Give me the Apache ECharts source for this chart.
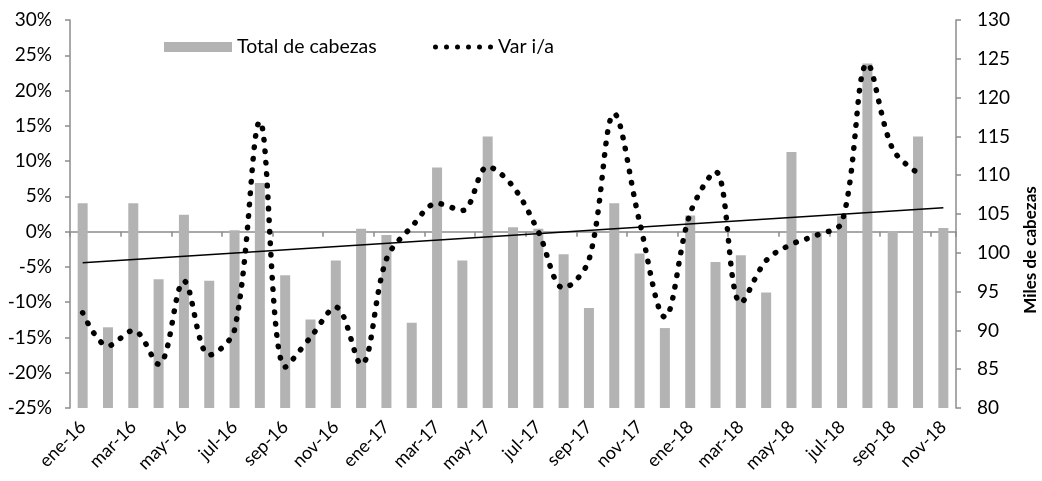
<!DOCTYPE html>
<html>
<head>
<meta charset="utf-8">
<script src="https://cdn.jsdelivr.net/npm/echarts@6/dist/echarts.min.js"></script>
<style>
html,body{margin:0;padding:0;background:#fff;}
#chart{width:1042px;height:481px;}
</style>
</head>
<body>
<div id="chart"></div>
<script>
const categories = [
  'ene-16','feb-16','mar-16','abr-16','may-16','jun-16','jul-16','ago-16','sep-16','oct-16','nov-16','dic-16',
  'ene-17','feb-17','mar-17','abr-17','may-17','jun-17','jul-17','ago-17','sep-17','oct-17','nov-17','dic-17',
  'ene-18','feb-18','mar-18','abr-18','may-18','jun-18','jul-18','ago-18','sep-18','oct-18','nov-18'
];
const totalCabezas = [
  106.4, 90.4, 106.4, 96.6, 104.9, 96.4, 102.9, 109.0, 97.1, 91.4, 99.0, 103.1,
  102.3, 91.0, 111.0, 99.0, 115.0, 103.3, 103.1, 99.8, 92.9, 106.4, 99.9, 90.3,
  104.8, 98.8, 99.7, 94.9, 113.0, 102.6, 104.7, 124.4, 102.8, 115.0, 103.2
];
const varIA = [
  -11.5, -16.2, -14.0, -18.8, -7.0, -17.5, -13.9, 15.6, -19.2, -15.0, -10.7, -18.8,
  -3.9, 0.7, 4.0, 3.0, 9.2, 6.4, 0.0, -8.0, -4.0, 16.7, 1.4, -12.1,
  2.6, 8.5, -10.1, -4.1, -1.8, -0.5, 1.4, 23.8, 11.7, 8.3, null
];
// linear trend: endpoints
const trendStart = -4.4;
const trendEnd = 3.4;
const leftTicks = {min: -25, max: 30, interval: 5};
const rightTicks = {min: 80, max: 130, interval: 5};
const rightAxisTitle = 'Miles de cabezas';

const trend = categories.map((c, i) => i === 0 ? trendStart : (i === categories.length - 1 ? trendEnd : null));

// legend icon: a row of six round dots
function dotsPath() {
  let p = 'path://';
  for (let i = 0; i < 6; i++) {
    const cx = 2.5 + i * 11;
    p += 'M' + (cx - 2.5) + ',2.5a2.5,2.5 0 1,0 5,0a2.5,2.5 0 1,0 -5,0Z';
  }
  return p;
}

const FONT = 'Lato';
const chart = echarts.init(document.getElementById('chart'), null, {renderer: 'canvas'});
const axisGray = '#8c8c8c';
chart.setOption({
  animation: false,
  textStyle: {fontFamily: FONT, color: '#000'},
  grid: {left: 70, right: 86, top: 20, bottom: 73, containLabel: false},
  legend: [
    {
      data: [{name: 'Total de cabezas', icon: 'rect'}],
      left: 159, top: 32, itemWidth: 68, itemHeight: 10, itemGap: 6,
      textStyle: {fontFamily: FONT, fontSize: 19.5, color: '#000'}
    },
    {
      data: [{name: 'Var i/a', icon: dotsPath()}],
      left: 428, top: 32, itemWidth: 60, itemHeight: 5,
      textStyle: {fontFamily: FONT, fontSize: 19.5, color: '#000'}
    }
  ],
  xAxis: [
    {
      type: 'category', data: categories, position: 'bottom',
      axisLine: {show: false}, axisTick: {show: false},
      axisLabel: {interval: 1, rotate: 45, fontFamily: FONT, fontSize: 18, color: '#000', margin: 16}
    },
    {
      type: 'category', data: categories, position: 'bottom',
      axisLine: {show: true, onZero: true, onZeroAxisIndex: 0, lineStyle: {color: axisGray, width: 1.5}},
      axisTick: {show: true, interval: 1, inside: false, length: 5, lineStyle: {color: axisGray, width: 1.5}},
      axisLabel: {show: false}
    }
  ],
  yAxis: [
    {
      type: 'value', min: leftTicks.min, max: leftTicks.max, interval: leftTicks.interval,
      splitLine: {show: false},
      axisLine: {show: true, lineStyle: {color: axisGray, width: 1.5}},
      axisTick: {show: true, length: 5, lineStyle: {color: axisGray, width: 1.5}},
      axisLabel: {formatter: '{value}%', fontFamily: FONT, fontSize: 19, color: '#000', margin: 18}
    },
    {
      type: 'value', min: rightTicks.min, max: rightTicks.max, interval: rightTicks.interval,
      position: 'right',
      splitLine: {show: false},
      axisLine: {show: true, lineStyle: {color: axisGray, width: 1.5}},
      axisTick: {show: true, length: 5, lineStyle: {color: axisGray, width: 1.5}},
      axisLabel: {fontFamily: FONT, fontSize: 19, color: '#000', margin: 21}
    }
  ],
  graphic: [
    {
      type: 'text', x: 1031, y: 250, rotation: Math.PI / 2,
      style: {text: rightAxisTitle, fontFamily: FONT, fontSize: 17, fontWeight: 'bold', fill: '#000',
              align: 'center', verticalAlign: 'middle'}
    }
  ],
  series: [
    {
      name: 'Total de cabezas', type: 'bar', xAxisIndex: 0, yAxisIndex: 1,
      data: totalCabezas, barWidth: 10,
      itemStyle: {color: '#b3b3b3'}, z: 1
    },
    {
      name: 'Var i/a', type: 'line', xAxisIndex: 0, yAxisIndex: 0,
      data: varIA, smooth: 0.35, symbol: 'none', showSymbol: false,
      lineStyle: {color: '#000', width: 5.5, type: [0.5, 11], cap: 'round'},
      itemStyle: {color: '#000'}, z: 4
    },
    {
      name: 'Tendencia', type: 'line', xAxisIndex: 0, yAxisIndex: 0,
      data: trend, connectNulls: true, symbol: 'none', showSymbol: false,
      lineStyle: {color: '#000', width: 1.5}, z: 3, silent: true
    }
  ]
});
</script>
</body>
</html>
